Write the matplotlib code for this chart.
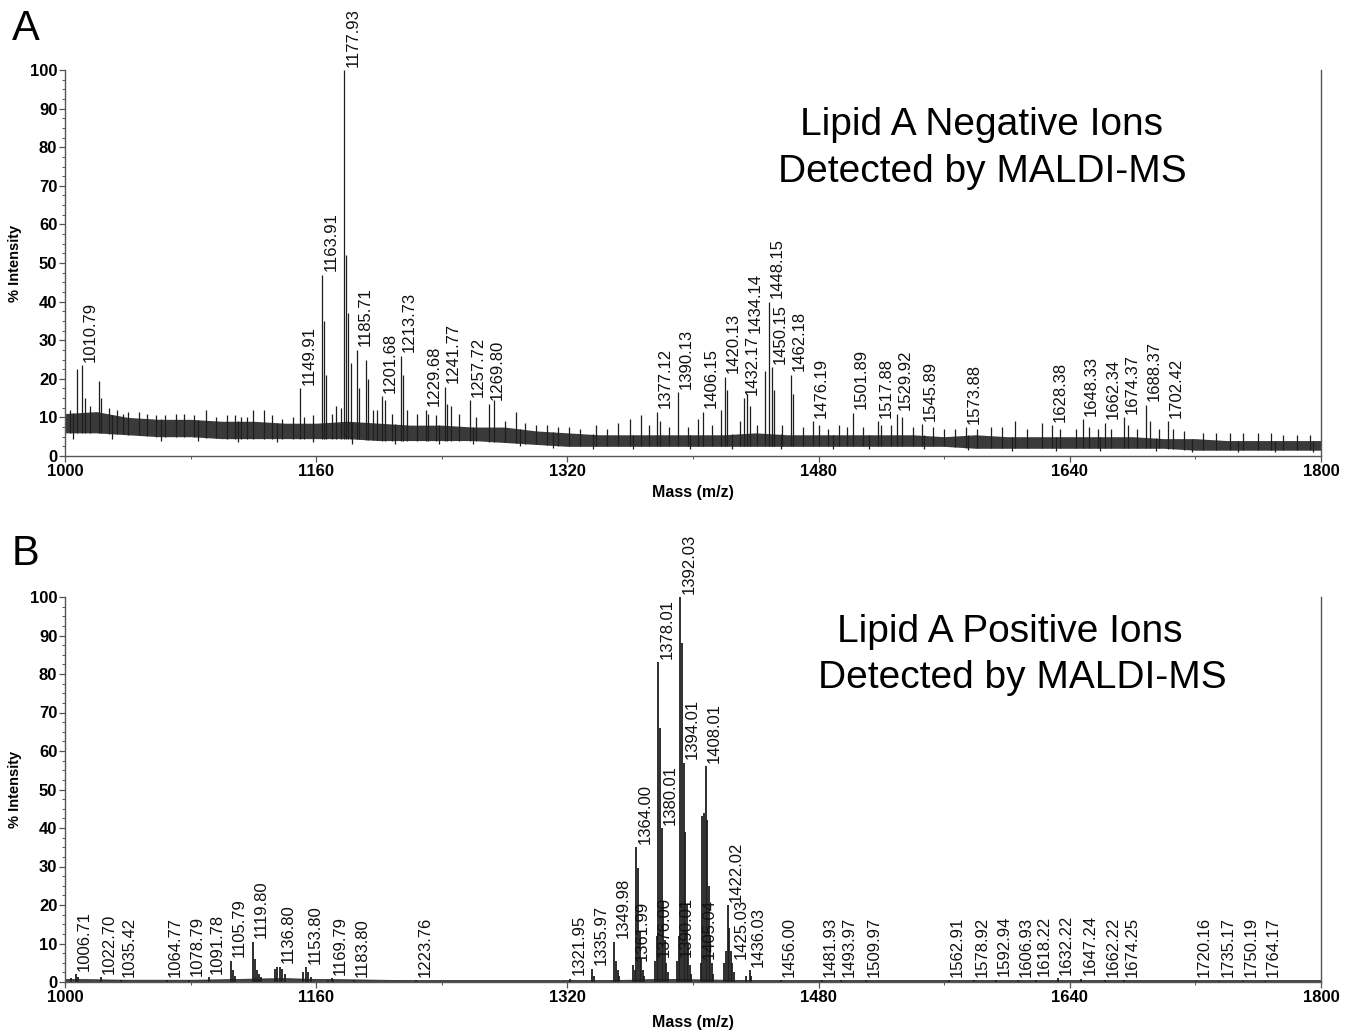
"""MALDI-MS spectra of lipid A: negative ions (A) and positive ions (B)."""
import numpy as np
import matplotlib
matplotlib.use("Agg")
import matplotlib.pyplot as plt

plt.rcParams["font.family"] = ["Liberation Sans", "DejaVu Sans"]

# ---------------- panel A : negative ions ----------------
# noise envelope, every 20 m/z from 1000 to 1800
A_NOISE_MZ = list(range(1000, 1801, 20))
A_NOISE_LO = [6, 6, 5.5, 5, 5, 4.5, 4.5, 4.5, 4.5, 4.5, 4, 4, 4, 4, 3.5, 3, 2.5, 2.5, 2.5, 2.5, 2.5,
              2.5, 2.5, 2.5, 2.5, 2.5, 2.5, 2.5, 2.5, 2, 2, 2, 2, 2, 2, 2, 1.5, 1.5, 1.5, 1.5, 1.5]
A_NOISE_HI = [11, 11.5, 10, 9.5, 9.5, 9, 9, 8.5, 8.5, 9, 8.5, 8, 8, 7.5, 7.5, 6.5, 6, 5.5, 5.5, 5.5,
              5.5, 5.5, 6, 5.5, 5.5, 5.5, 5.5, 5.5, 5, 5.5, 5, 5, 5, 5, 5, 4.5, 4.5, 4, 4, 4, 4]

A_LABEL_MZ = [1010.79, 1149.91, 1163.91, 1177.93, 1185.71, 1201.68, 1213.73, 1229.68, 1241.77,
              1257.72, 1269.80, 1377.12, 1390.13, 1406.15, 1420.13, 1432.17, 1434.14, 1448.15,
              1450.15, 1462.18, 1476.19, 1501.89, 1517.88, 1529.92, 1545.89, 1573.88, 1628.38,
              1648.33, 1662.34, 1674.37, 1688.37, 1702.42]
A_LABEL_INT = [23.5, 17.6, 47, 100, 27.5, 15.5, 26, 12, 18,
               14.5, 13.5, 11.5, 16.5, 11.5, 20.5, 15, 16, 40,
               23, 21, 9, 11.2, 9, 11, 8.2, 7.5, 8,
               9.5, 8.6, 10, 13.3, 9]

# unlabelled spikes (isotopes and noise tops)
A_MINOR_MZ = [1003, 1007.8, 1012.5, 1016, 1021.7, 1023, 1028, 1033, 1037, 1040, 1047, 1052, 1058,
              1064, 1071, 1076, 1082, 1090, 1096, 1103, 1108, 1112, 1116, 1120, 1127, 1132, 1138,
              1145, 1152, 1158, 1165, 1166.5, 1170, 1172.5, 1176, 1179, 1180.5, 1182, 1187,
              1191.5, 1193, 1196, 1199, 1204, 1208, 1215, 1218, 1224, 1231, 1236, 1243.5, 1246,
              1251, 1262, 1273, 1280, 1287, 1293, 1300, 1307, 1314, 1321, 1328, 1338, 1345, 1352,
              1360, 1367, 1372, 1379, 1385, 1397, 1403, 1412, 1418, 1421.5, 1430, 1436, 1441,
              1446, 1451.5, 1457, 1464, 1470, 1480, 1486, 1493, 1498, 1508, 1520, 1526, 1533,
              1540, 1553, 1560, 1567, 1581, 1590, 1597, 1605, 1613, 1622, 1634, 1644, 1652, 1658,
              1666, 1677, 1683, 1691, 1697, 1706, 1713, 1725, 1733, 1742, 1750, 1760, 1768, 1776,
              1785, 1793]
A_MINOR_INT = [12, 22.5, 15, 13, 19.5, 15, 12.5, 12, 11, 11.5, 11.5, 11, 10.5,
               10.5, 11, 11, 10.5, 12, 10, 10.5, 10.5, 10, 10, 12, 12, 10.5, 9.5,
               10, 10, 10.5, 35, 21, 11, 13, 12.5, 52, 37, 24, 17.5,
               25, 20, 12, 12, 14.5, 11, 21, 12, 11, 11, 10.5, 13.5, 13,
               11, 10, 14.5, 9, 11.5, 8.5, 8, 8, 7.5, 7.5, 7, 8, 7, 8.5,
               9.5, 10.5, 8, 9, 7.5, 7.5, 9.5, 8, 12, 17, 9, 13, 8,
               22, 17, 8, 16, 7.5, 8, 7, 8, 7.5, 7.5, 8, 8, 10,
               7.5, 7.5, 7, 7, 7, 7.5, 7.5, 9, 7, 8.6, 7, 7, 7.5, 7,
               7, 8, 7, 9, 7, 7, 6.5, 6, 6, 6, 6, 6, 6, 5.5,
               5.5, 5.5]

# downward noise excursions below the lower envelope
A_DIP_MZ = [1005, 1030, 1061, 1085, 1110, 1135, 1158, 1183, 1210, 1238, 1260, 1290, 1311, 1336,
            1362, 1398, 1425, 1456, 1489, 1512, 1547, 1575, 1603, 1631, 1659, 1695, 1718, 1747,
            1771, 1795]
A_DIP_INT = [4.5, 4.5, 4, 4, 3.5, 3.5, 3.5, 3, 3, 3, 3, 2.5, 2, 1.8,
             1.8, 1.8, 1.8, 1.8, 1.8, 1.8, 1.8, 1.5, 1.2, 1.2, 1.2, 1.2, 1, 1,
             1, 1]

# ---------------- panel B : positive ions ----------------
B_BASE_MZ = list(range(1000, 1801, 20))
B_BASE = [0.8, 0.7, 0.6, 0.6, 0.6, 0.7, 0.9, 1.0, 0.8, 0.7, 0.6, 0.5, 0.5, 0.5, 0.5, 0.5, 0.5,
          0.5, 0.6, 0.8, 0.7, 0.6, 0.5, 0.5, 0.5, 0.5, 0.5, 0.5, 0.5, 0.5, 0.5, 0.5, 0.5,
          0.5, 0.5, 0.5, 0.5, 0.5, 0.5, 0.5, 0.5]

B_LABEL_MZ = [1006.71, 1022.70, 1035.42, 1064.77, 1078.79, 1091.78, 1105.79, 1119.80, 1136.80,
              1153.80, 1169.79, 1183.80, 1223.76, 1321.95, 1335.97, 1349.98, 1361.99, 1364.00,
              1376.00, 1378.01, 1380.01, 1390.01, 1392.03, 1394.01, 1405.04, 1408.01, 1422.02,
              1425.03, 1436.03, 1456.00, 1481.93, 1493.97, 1509.97, 1562.91, 1578.92, 1592.94,
              1606.93, 1618.22, 1632.22, 1647.24, 1662.22, 1674.25, 1720.16, 1735.17, 1750.19,
              1764.17]
B_LABEL_INT = [2.0, 1.2, 0.5, 0.5, 0.6, 1.2, 5.5, 10.5, 4.0,
               3.8, 1.0, 0.5, 0.4, 0.8, 3.5, 10.5, 4.5, 35,
               5.5, 83, 40, 5.5, 100, 57, 5, 56, 20,
               5, 3, 0.5, 0.4, 0.4, 0.4, 0.4, 0.5, 0.6,
               0.5, 0.6, 1.0, 0.8, 0.5, 0.4, 0.3, 0.3, 0.3,
               0.3]

# isotope / tail peaks that carry no label
B_MINOR_MZ = [1004, 1008, 1106.8, 1108, 1120.8, 1122, 1123.5, 1125, 1133.8, 1135, 1138, 1140,
              1151.8, 1155, 1157, 1167.8, 1171, 1337, 1351, 1352, 1353, 1363, 1365, 1366, 1367,
              1368, 1369, 1377, 1379, 1381, 1382, 1383, 1384, 1391, 1393, 1395, 1396, 1397,
              1398, 1399, 1406, 1407, 1409, 1410, 1411, 1412, 1413, 1420, 1421, 1423, 1424,
              1426, 1434, 1437]
B_MINOR_INT = [1.0, 1.2, 3, 1.5, 6, 3, 2, 1.2, 3.5, 3.8, 3.5, 2,
               2.5, 2.5, 1.2, 0.6, 0.6, 1.5, 5.5, 3, 1.5, 3, 29.5, 13, 6,
               3, 1.5, 12, 66, 21, 11, 5, 2.5, 12, 88, 39, 20, 10,
               4.5, 2, 43, 44, 42, 25, 12, 5, 2, 5, 8, 14, 8,
               2.5, 1.5, 1.5]

X_MAJOR = [1000, 1160, 1320, 1480, 1640, 1800]
X_MINOR = [1080, 1240, 1400, 1560, 1720]

INK = "#1e1e1e"
AXC = "#555555"
W, H = 1354, 1032


def place_labels(ax, mzs, ints):
    """Rotated peak labels; a label that would sit on a previous one is lifted above it."""
    fig = ax.figure
    r = fig.canvas.get_renderer()
    placed = []
    for mz, h in zip(mzs, ints):
        t = ax.annotate(f"{mz:.2f}", (mz, h), xytext=(0.8, 2.5), textcoords="offset points",
                        rotation=90, ha="left", va="bottom", fontsize=12, color="#111111",
                        annotation_clip=False)
        bb = t.get_window_extent(r)
        for pb in placed:
            ox = min(bb.x1, pb.x1) - max(bb.x0, pb.x0)
            oy = min(bb.y1, pb.y1) - max(bb.y0, pb.y0)
            if ox > 4 and oy > 4:
                lift = (pb.y1 - bb.y0 + 2) * 72 / fig.dpi
                t.xyann = (0.8, 2.5 + lift)
                bb = t.get_window_extent(r)
        placed.append(bb)


def style_axis(ax):
    ax.set_xlim(1000, 1800)
    ax.set_ylim(0, 100)
    ax.spines["top"].set_visible(False)
    for s in ("left", "right", "bottom"):
        ax.spines[s].set_color(AXC)
        ax.spines[s].set_linewidth(1.0)
    ax.set_xticks(X_MAJOR)
    ax.set_xticks(X_MINOR, minor=True)
    ax.set_yticks(range(0, 101, 10))
    ax.set_yticks(np.arange(0, 100.1, 2.5), minor=True)
    ax.tick_params(which="major", length=4, width=0.9, color=AXC, labelsize=12, pad=1.5)
    ax.tick_params(which="minor", length=2.5, width=0.7, color=AXC)
    for lab in ax.get_xticklabels() + ax.get_yticklabels():
        lab.set_fontweight("bold")
    ax.set_ylabel("% Intensity", fontsize=10.5, fontweight="bold")
    ax.yaxis.set_label_coords(-43 / 1256, 0.5)
    ax.set_xlabel("Mass (m/z)", fontsize=11.5, fontweight="bold")


fig = plt.figure(figsize=(W / 100, H / 100), dpi=100)
axA = fig.add_axes([65 / W, 1 - 456 / H, 1256 / W, 386 / H])
axB = fig.add_axes([65 / W, 1 - 982 / H, 1256 / W, 385 / H])

# panel A
axA.fill_between(A_NOISE_MZ, A_NOISE_LO, A_NOISE_HI, color="#3a3a3a", lw=0)
a_mz = np.array(A_MINOR_MZ + A_LABEL_MZ)
a_int = np.array(A_MINOR_INT + A_LABEL_INT)
axA.vlines(a_mz, np.interp(a_mz, A_NOISE_MZ, A_NOISE_LO), a_int, color=INK, lw=0.9)
axA.vlines(A_DIP_MZ, A_DIP_INT, np.interp(A_DIP_MZ, A_NOISE_MZ, A_NOISE_HI), color=INK, lw=0.9)
style_axis(axA)
axA.xaxis.set_label_coords(0.5, -37 / 386)
axA.xaxis.label.set_va("center")
place_labels(axA, A_LABEL_MZ, A_LABEL_INT)

# panel B
axB.fill_between(B_BASE_MZ, 0, B_BASE, color="#454545", lw=0.5, edgecolor=INK)
b_mz = np.array(B_MINOR_MZ + B_LABEL_MZ)
b_int = np.array(B_MINOR_INT + B_LABEL_INT)
axB.vlines(b_mz, 0, b_int, color=INK, lw=1.3)
style_axis(axB)
axB.xaxis.set_label_coords(0.5, -40 / 385)
axB.xaxis.label.set_va("center")
place_labels(axB, B_LABEL_MZ, B_LABEL_INT)

# panel letters and in-plot titles
fig.text(12 / W, 1 - 40 / H, "A", fontsize=30, va="baseline", ha="left")
fig.text(12 / W, 1 - 565 / H, "B", fontsize=30, va="baseline", ha="left")
fig.text(981 / W, 1 - 135 / H, "Lipid A Negative Ions", fontsize=28, ha="center", va="baseline")
fig.text(982 / W, 1 - 182 / H, "Detected by MALDI-MS", fontsize=28, ha="center", va="baseline")
fig.text(1010 / W, 1 - 642 / H, "Lipid A Positive Ions", fontsize=28, ha="center", va="baseline")
fig.text(1022 / W, 1 - 688 / H, "Detected by MALDI-MS", fontsize=28, ha="center", va="baseline")

fig.savefig("out.png", dpi=100, facecolor="white")
